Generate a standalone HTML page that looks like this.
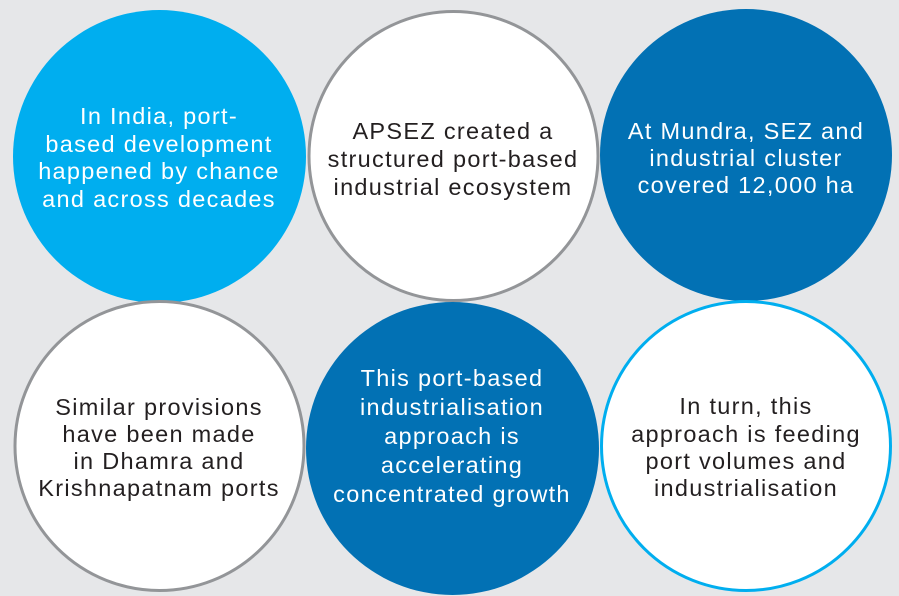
<!DOCTYPE html>
<html><head><meta charset="utf-8"><style>
html,body{margin:0;padding:0;background:#e6e7e9;}
svg{display:block;}
text{font-family:"Liberation Sans",sans-serif;font-size:23.5px;letter-spacing:1.3px;text-anchor:middle;}
.w{fill:#ffffff;}
.d{fill:#231f20;}
</style></head><body>
<svg width="899" height="596" viewBox="0 0 899 596" xmlns="http://www.w3.org/2000/svg">
<rect width="899" height="596" fill="#e6e7e9"/>
<circle cx="159.5" cy="156.5" r="146.5" fill="#00aeef"/>
<circle cx="453.5" cy="156" r="144.5" fill="#fff" stroke="#939598" stroke-width="3"/>
<circle cx="746" cy="155" r="146" fill="#0271b4"/>
<circle cx="159.5" cy="446" r="144.5" fill="#fff" stroke="#939598" stroke-width="3"/>
<circle cx="452.5" cy="448.5" r="146.5" fill="#0271b4"/>
<circle cx="746" cy="446" r="144.5" fill="#fff" stroke="#00aeef" stroke-width="3"/>

<g class="w">
<text x="159" y="124">In India, port-</text>
<text x="159" y="152">based development</text>
<text x="159" y="179">happened by chance</text>
<text x="159" y="207">and across decades</text>
</g>
<g class="d">
<text x="453" y="139">APSEZ created a</text>
<text x="453" y="167">structured port-based</text>
<text x="453" y="195">industrial ecosystem</text>
</g>
<g class="w">
<text x="746" y="139">At Mundra, SEZ and</text>
<text x="746" y="166">industrial cluster</text>
<text x="746" y="193">covered 12,000 ha</text>
</g>
<g class="d">
<text x="159" y="415">Similar provisions</text>
<text x="159" y="442">have been made</text>
<text x="159" y="469">in Dhamra and</text>
<text x="159" y="496">Krishnapatnam ports</text>
</g>
<g class="w">
<text x="452" y="386">This port-based</text>
<text x="452" y="415">industrialisation</text>
<text x="452" y="444">approach is</text>
<text x="452" y="473">accelerating</text>
<text x="452" y="502">concentrated growth</text>
</g>
<g class="d">
<text x="746" y="414">In turn, this</text>
<text x="746" y="442">approach is feeding</text>
<text x="746" y="469">port volumes and</text>
<text x="746" y="496">industrialisation</text>
</g>
</svg>
</body></html>
